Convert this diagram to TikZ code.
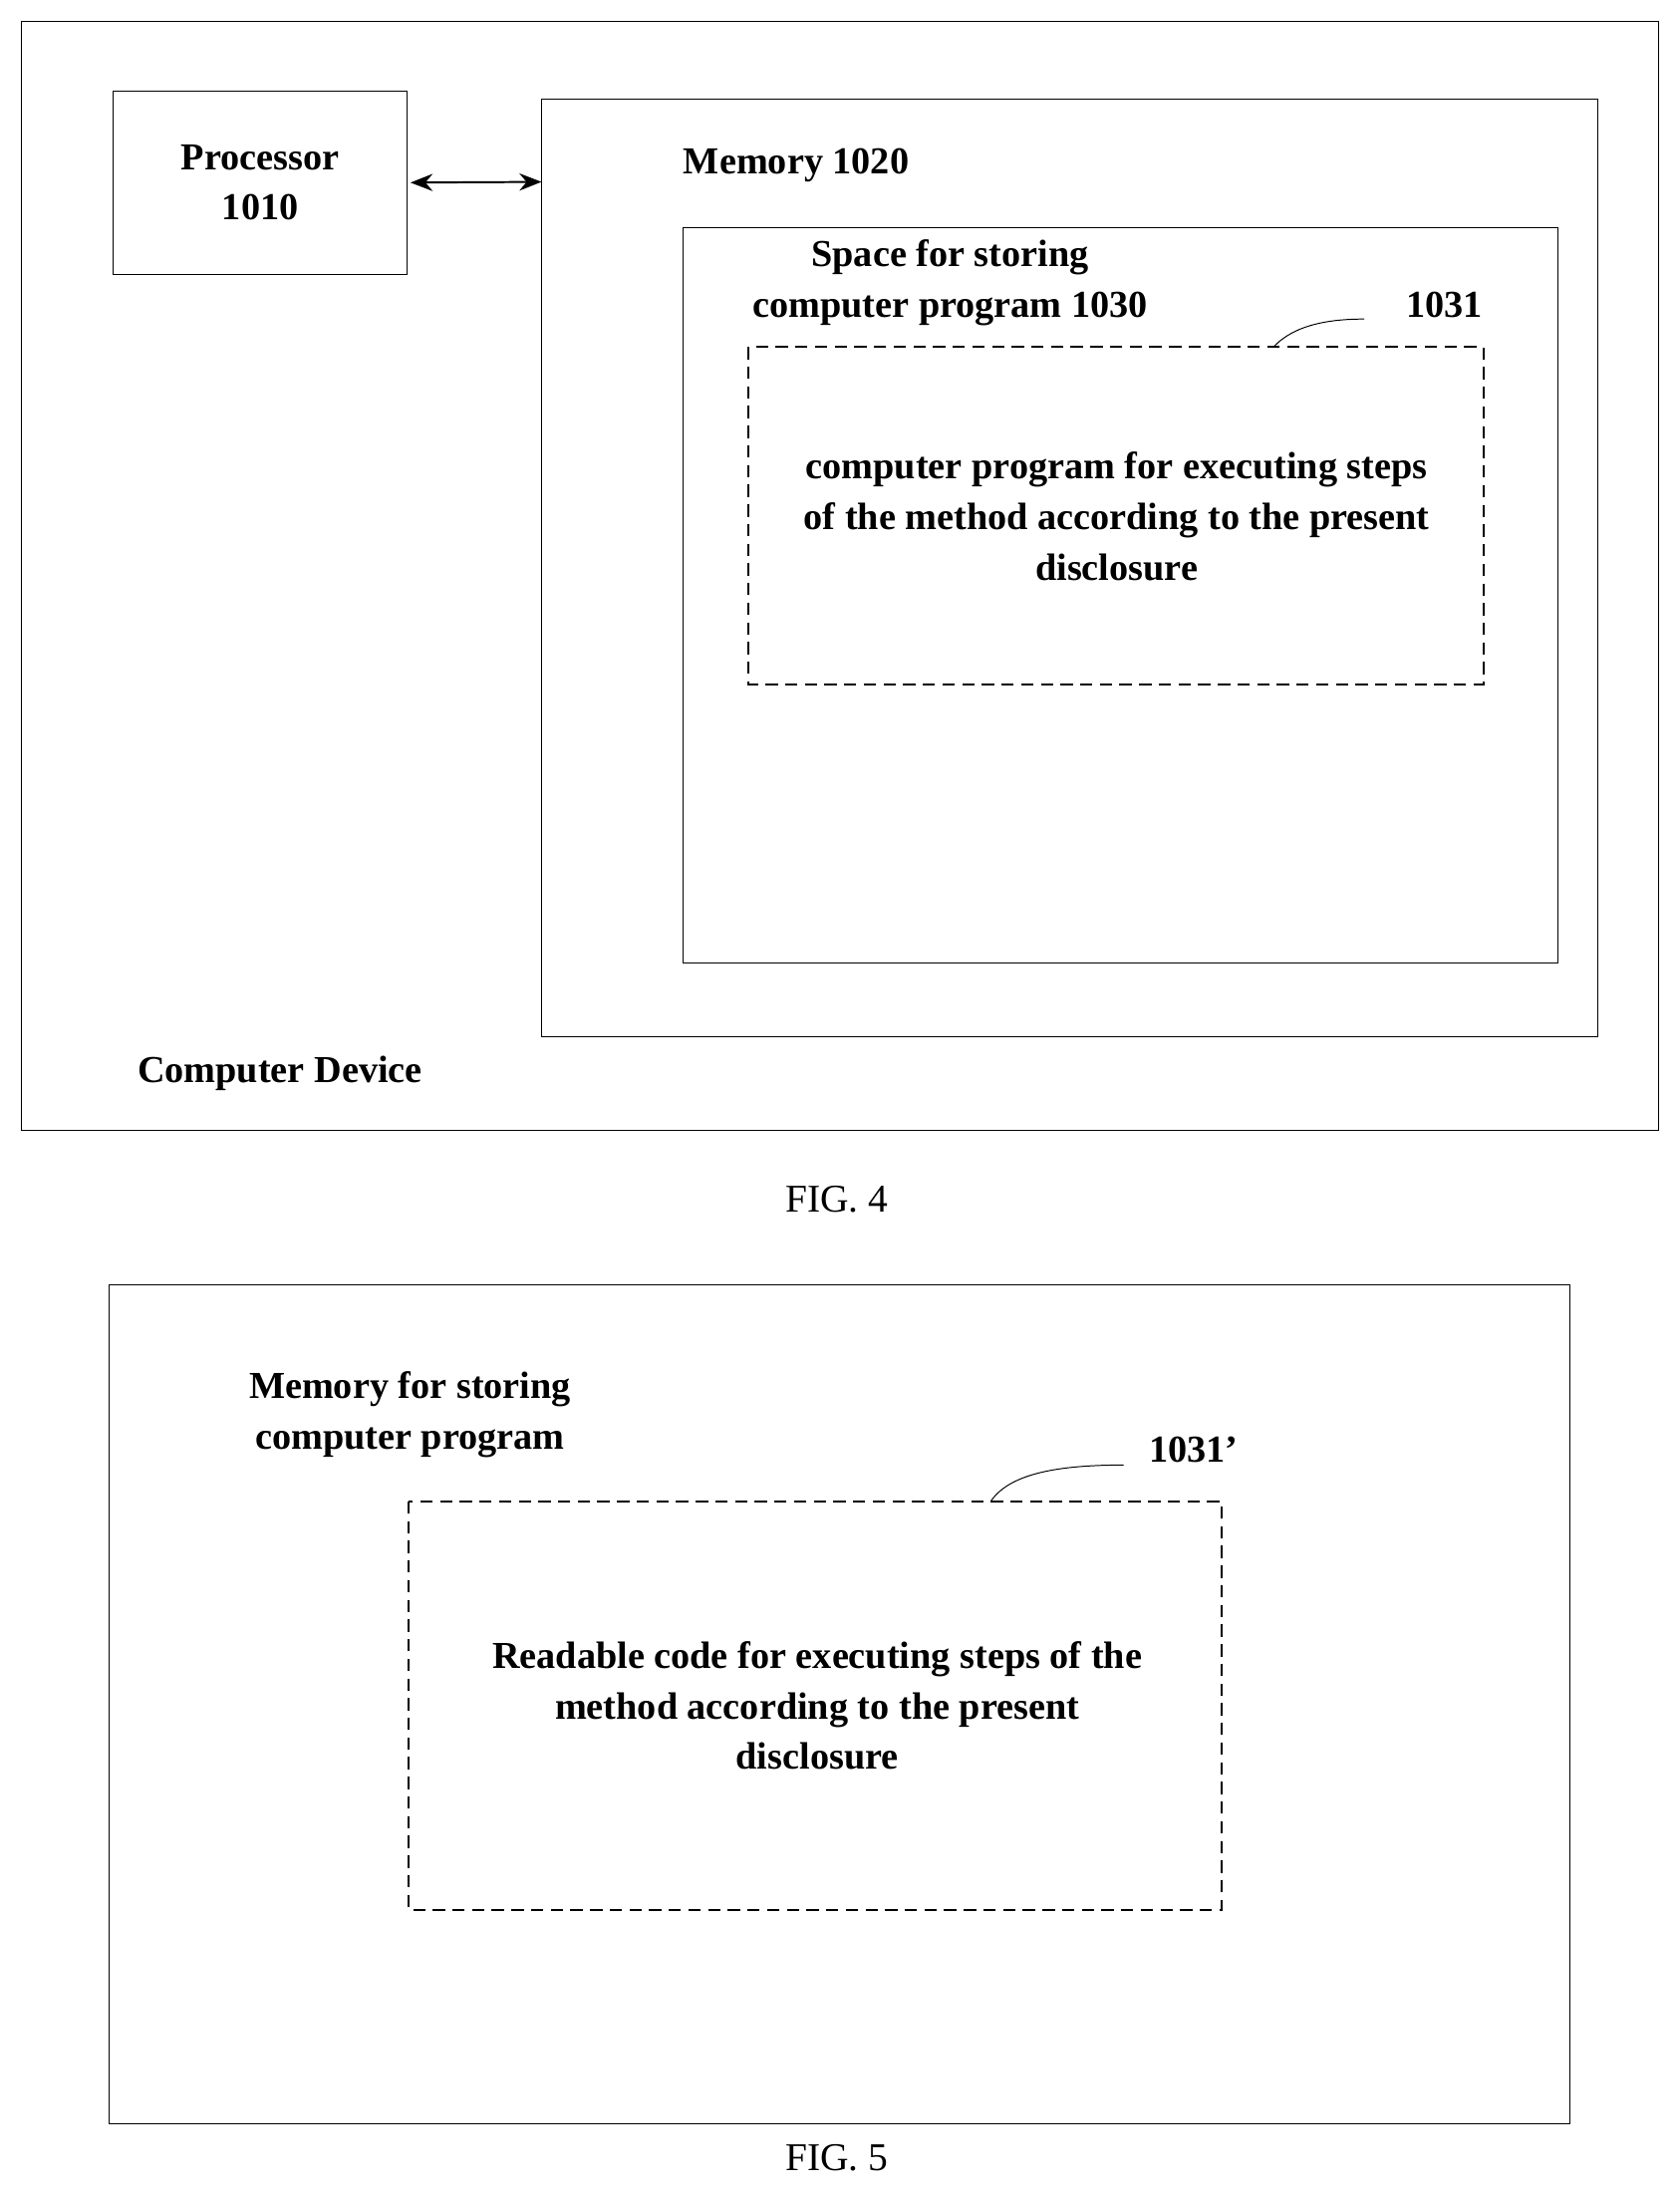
\documentclass[tikz,border=0pt]{standalone}
\usepackage{fontspec}
\setmainfont{Liberation Serif}
\usetikzlibrary{positioning,arrows.meta}
\begin{document}
\begin{tikzpicture}[x=0.02cm,y=-0.02cm,
    box/.style = {draw,thin},
    dbox/.style = {draw,thick,dash pattern=on 5pt off 3pt},
    lbl/.style = {font=\bfseries\fontsize{15.5}{20.5}\selectfont,align=center},
    figcap/.style = {font=\fontsize{16}{19}\selectfont},
    arrow/.style = {thick,{Stealth[length=9pt,width=7pt]}-{Stealth[length=9pt,width=7pt]}}]
    \useasboundingbox (0,0) rectangle (1200,1568);
    % FIG. 4
    \draw[box] (15,15) rectangle (1185,808);
    \node[box,minimum width=210*0.02cm,minimum height=131*0.02cm] (proc) at (186,130.5) {};
    \node[lbl] at (proc) {Processor\\1010};
    \draw[box] (387,71) rectangle (1142,741);
    \coordinate (mem) at (387,130);
    \node[lbl] at (569,118) {Memory 1020};
    \draw[box] (488,163) rectangle (1113,688);
    \node[lbl] at (679,202) {Space for storing\\computer program 1030};
    \draw[dbox] (535,248) rectangle (1060,489);
    \node[lbl] at (798,369) {computer program for executing steps\\of the method according to the present\\disclosure};
    \node[lbl] (n1031) at (1032,218) {1031};
    \draw (910,248) .. controls (925,232) and (950,228) .. (975,228);
    \node[lbl] at (200,767) {Computer Device};
    \draw[arrow] (proc.east) ++(2,0) -- (mem);
    \node[figcap] at (598,857) {FIG. 4};
    % FIG. 5
    \draw[box] (78,918) rectangle (1122,1518);
    \node[lbl] at (293,1011) {Memory for storing\\computer program};
    \draw[dbox] (292,1073) rectangle (873,1365);
    \node[lbl] at (584,1219) {Readable code for executing steps of the\\method according to the present\\disclosure};
    \node[lbl] (n1031b) at (853,1036) {1031\symbol{39}};
    \draw (708,1073) .. controls (722,1052) and (760,1047) .. (803,1047);
    \node[figcap] at (598,1542) {FIG. 5};
\end{tikzpicture}
\end{document}
